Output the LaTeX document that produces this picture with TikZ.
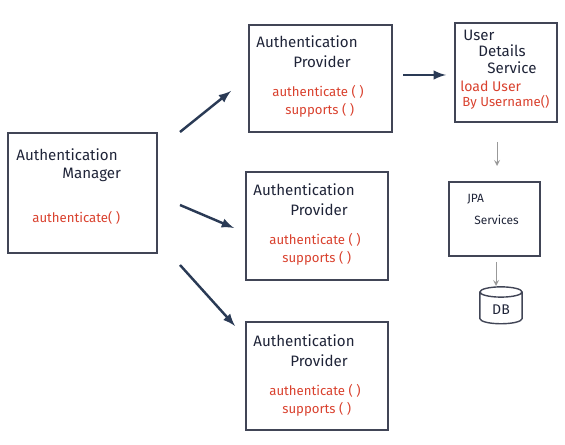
\documentclass[tikz,border=0pt]{standalone}
\usepackage{fontspec}
\setmainfont{Fira Sans}
\usepackage{tikz}
\usetikzlibrary{fit,shapes.geometric}
\definecolor{ink}{HTML}{1F2438}
\definecolor{pen}{HTML}{D9412E}
\definecolor{arr}{HTML}{2A3A55}
\tikzset{
  box/.style={draw=ink!85, line width=1pt, inner sep=0pt},
  title/.style={anchor=west, text=ink, font=\fontsize{8.6}{10}\selectfont, inner sep=0pt},
  meth/.style={anchor=west, text=pen, font=\fontsize{7.5}{9}\selectfont, inner sep=0pt},
  bigarrow/.style={->, >=latex, line width=1.4pt, draw=arr},
  thinarrow/.style={->, >=stealth, line width=0.5pt, draw=gray!80}
}
\begin{document}
\begin{tikzpicture}[x=0.02cm,y=-0.02cm]
\useasboundingbox (0,0) rectangle (565,445);
% boxes
\node[box, fit={(8,133) (157,253)}] (mgr) {}; %
\node[box, fit={(249,25) (392,132)}] (prov1) {}; %
\node[box, fit={(246,172) (388,280)}] (prov2) {}; %
\node[box, fit={(246,322) (388,430)}] (prov3) {}; %
\node[box, fit={(455,23) (557,122)}] (uds) {}; %
\node[box, fit={(449,182) (540,256)}] (jpa) {}; %
\node[cylinder, shape border rotate=90, draw=ink!85, line width=0.8pt, aspect=0.35,
  minimum width=24pt, minimum height=21pt, text=ink, font=\fontsize{8}{9}\selectfont]
  (db) at (501,310) {DB};
% manager text
\node[title] (mgrA) at (16,155) {Authentication};
\node[title] (mgrB) at (62,175) {Manager};
\node[meth] (mgrM) at (32,218) {authenticate( )};
% provider texts
\foreach \p/\x/\y in {prov1/256/42, prov2/253/190, prov3/253/341}{
  \node[title] (\p A) at (\x,\y) {Authentication};
  \node[title] (\p B) at (\x+37,\y+20) {Provider};
  \node[meth] (\p M) at (\x+16,\y+50) {authenticate ( )};
  \node[meth] (\p S) at (\x+29,\y+68) {supports ( )};
}
% user details service
\node[title] (udsA) at (463,35) {User};
\node[title] (udsB) at (478,51) {Details};
\node[title] (udsC) at (487,68) {Service};
\node[meth, font=\fontsize{8}{9}\selectfont] (udsM) at (460,86) {load User};
\node[meth] (udsN) at (462,102) {By Username()};
% jpa
\node[title, font=\fontsize{6.8}{8}\selectfont] (jpaA) at (467,199) {JPA};
\node[title, font=\fontsize{6.8}{8}\selectfont] (jpaB) at (474,220) {Services};
% arrow ends
\coordinate (a1s) at (180,132); \coordinate (a1e) at (231,91);
\coordinate (a2s) at (180,205); \coordinate (a2e) at (234,228);
\coordinate (a3s) at (180,265); \coordinate (a3e) at (235,326);
\coordinate (a4s) at (403,75);  \coordinate (a4e) at (446,75);
\coordinate (a5s) at (497,142); \coordinate (a5e) at (497,166);
\coordinate (a6s) at (496,262); \coordinate (a6e) at (496,286);
\draw[bigarrow] (a1s) -- (a1e);
\draw[bigarrow] (a2s) -- (a2e);
\draw[bigarrow] (a3s) -- (a3e);
\draw[bigarrow] (a4s) -- (a4e);
\draw[thinarrow] (a5s) -- (a5e);
\draw[thinarrow] (a6s) -- (a6e);
\end{tikzpicture}
\end{document}
